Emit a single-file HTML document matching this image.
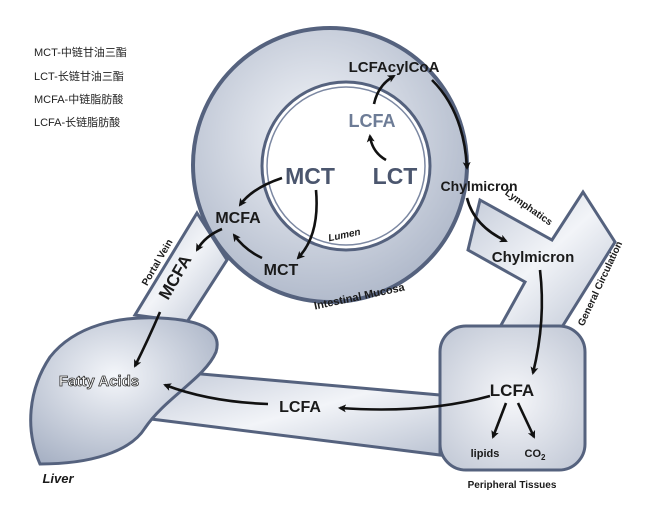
<!DOCTYPE html>
<html><head><meta charset="utf-8"><style>
html,body{margin:0;padding:0;background:#fff;width:651px;height:509px;overflow:hidden}
svg{display:block}
text{font-family:"Liberation Sans","Noto Sans CJK SC",sans-serif}
.b{font-weight:bold;fill:#1a1a1a}
.a{fill:none;stroke:#111;stroke-width:2.6;marker-end:url(#h)}
</style></head><body>
<svg width="651" height="509" viewBox="0 0 651 509" xmlns="http://www.w3.org/2000/svg">
<defs>
<marker id="h" markerWidth="8" markerHeight="8" refX="6" refY="4" orient="auto" markerUnits="userSpaceOnUse" viewBox="0 0 8 8">
<path d="M0,0 L8,4 L0,8 L2,4 Z" fill="#111"/></marker>
<radialGradient id="g1" cx="0.45" cy="0.4" r="0.7"><stop offset="0" stop-color="#f4f6fa"/><stop offset="1" stop-color="#a7b1c4"/></radialGradient>
<linearGradient id="t1" x1="0" y1="0" x2="1" y2="1"><stop offset="0" stop-color="#c3cad8"/><stop offset="0.5" stop-color="#f2f4f8"/><stop offset="1" stop-color="#bcc4d3"/></linearGradient>
<radialGradient id="g2" cx="0.5" cy="0.5" r="0.7"><stop offset="0" stop-color="#f6f7fa"/><stop offset="1" stop-color="#bfc6d4"/></radialGradient>
</defs>
<g font-size="11" fill="#222">
<text x="34" y="56">MCT-中链甘油三酯</text>
<text x="34" y="80">LCT-长链甘油三酯</text>
<text x="34" y="103">MCFA-中链脂肪酸</text>
<text x="34" y="126">LCFA-长链脂肪酸</text>
</g>
<!-- tubes -->
<polygon points="197,213 227,260 187,322 135,315" fill="url(#t1)" stroke="#55627e" stroke-width="3"/>
<polygon points="190,373 440,395 440,455 143,418" fill="url(#t1)" stroke="#55627e" stroke-width="3"/>
<polygon points="480,200 552,240 583,192 615,242 562,327 500,327 525,282 468,250" fill="url(#t1)" stroke="#55627e" stroke-width="3"/>
<!-- circles -->
<circle cx="330" cy="165" r="137" fill="url(#g1)" stroke="#55627e" stroke-width="4"/>
<circle cx="346" cy="166" r="84" fill="#fff" stroke="#55627e" stroke-width="3"/>
<circle cx="346" cy="166" r="79" fill="#fff" stroke="#7c88a2" stroke-width="1.5"/>
<!-- liver -->
<path d="M40,464 C25,430 28,390 50,357 C75,325 120,316 160,318 C205,320 222,332 216,352 C205,378 165,398 145,428 C130,452 90,464 40,464 Z" fill="url(#g1)" stroke="#55627e" stroke-width="3"/>
<!-- peripheral box -->
<rect x="440" y="326" width="145" height="144" rx="26" fill="url(#g2)" stroke="#55627e" stroke-width="3"/>
<!-- arrows -->
<path class="a" d="M386,160 Q372,152 370,136"/>
<path class="a" d="M374,104 Q378,85 394,76"/>
<path class="a" d="M432,80 Q464,112 467,168"/>
<path class="a" d="M467,198 Q474,226 506,241"/>
<path class="a" d="M540,270 Q546,320 533,373"/>
<path class="a" d="M490,396 Q425,414 340,408"/>
<path class="a" d="M268,404 Q210,402 165,385"/>
<path class="a" d="M506,403 L493,437"/>
<path class="a" d="M518,403 L534,437"/>
<path class="a" d="M282,178 Q252,188 240,205"/>
<path class="a" d="M316,190 Q320,235 298,258"/>
<path class="a" d="M262,258 Q245,250 234,235"/>
<path class="a" d="M222,229 Q205,236 197,250"/>
<path class="a" d="M160,312 Q148,340 135,366"/>
<!-- labels -->
<text x="310" y="184" font-size="23" font-weight="bold" fill="#4b566e" text-anchor="middle">MCT</text>
<text x="395" y="184" font-size="23" font-weight="bold" fill="#4b566e" text-anchor="middle">LCT</text>
<text x="372" y="127" font-size="18" font-weight="bold" fill="#6d7c96" text-anchor="middle">LCFA</text>
<text x="394" y="72" font-size="15" class="b" text-anchor="middle">LCFAcylCoA</text>
<text x="479" y="191" font-size="14" class="b" text-anchor="middle">Chylmicron</text>
<text x="533" y="262" font-size="15" class="b" text-anchor="middle">Chylmicron</text>
<text x="238" y="223" font-size="16" class="b" text-anchor="middle">MCFA</text>
<text x="281" y="275" font-size="16" class="b" text-anchor="middle">MCT</text>
<text x="345" y="238" font-size="10" font-style="italic" class="b" text-anchor="middle" transform="rotate(-12 345 238)">Lumen</text>
<text x="360" y="300" font-size="11" class="b" text-anchor="middle" transform="rotate(-12 360 300)">Intestinal Mucosa</text>
<text x="527" y="210" font-size="10" class="b" text-anchor="middle" transform="rotate(35 527 210)">Lymphatics</text>
<text x="603" y="285" font-size="10" class="b" text-anchor="middle" transform="rotate(-65 603 285)">General Circulation</text>
<text x="160" y="264" font-size="10" class="b" text-anchor="middle" transform="rotate(-60 160 264)">Portal Vein</text>
<text x="180" y="280" font-size="17" class="b" text-anchor="middle" transform="rotate(-60 180 280)">MCFA</text>
<text x="99" y="386" font-size="15" font-weight="bold" fill="#fff" stroke="#333" stroke-width="0.8" text-anchor="middle">Fatty Acids</text>
<text x="58" y="483" font-size="13" font-style="italic" class="b" text-anchor="middle">Liver</text>
<text x="300" y="412" font-size="16" class="b" text-anchor="middle">LCFA</text>
<text x="512" y="396" font-size="17" class="b" text-anchor="middle">LCFA</text>
<text x="485" y="457" font-size="11" class="b" text-anchor="middle">lipids</text>
<text x="535" y="457" font-size="11" class="b" text-anchor="middle">CO<tspan font-size="8" dy="3">2</tspan></text>
<text x="512" y="488" font-size="10" class="b" text-anchor="middle">Peripheral Tissues</text>
</svg>
</body></html>
